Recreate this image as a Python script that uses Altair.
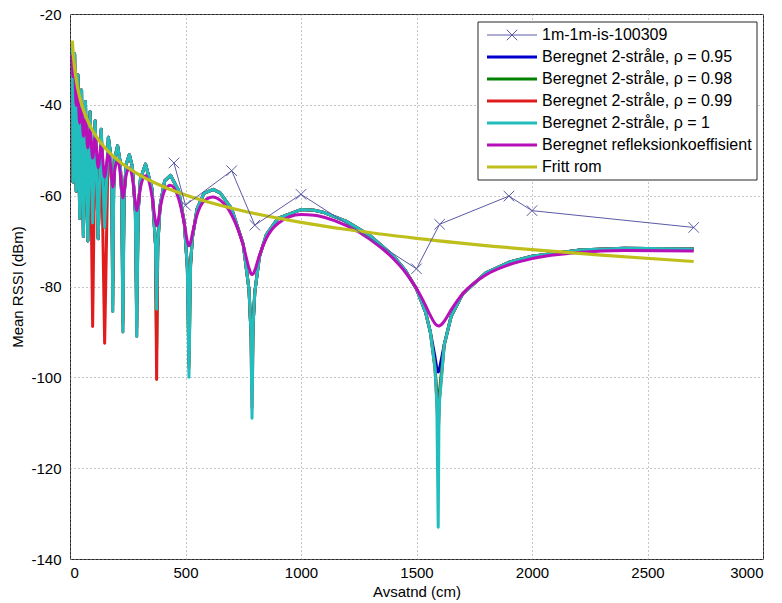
import altair as alt
import pandas as pd

# ---------------- data ----------------
# distance samples (cm) shared by the computed curves
dist_model = [10, 13, 20, 27, 34, 42, 50, 58, 67, 77, 87, 98, 109, 122, 135, 150,
              166, 175, 181, 185, 189, 195, 206, 217, 224, 229, 234, 243, 257, 270,
              283, 289, 295, 305, 327, 355, 370, 375, 380, 390, 410, 435, 470, 495,
              508, 515, 522, 530, 550, 580, 620, 650, 700, 750, 775, 783, 788, 793,
              800, 820, 850, 900, 1000, 1057, 1100, 1200, 1300, 1400, 1450, 1500,
              1540, 1560, 1580, 1588, 1594, 1597, 1600, 1620, 1650, 1700, 1800,
              1900, 2000, 2200, 2400, 2700]

# two-ray model, rho = 1 (cyan)
rssi_rho_1 = [-26.66, -57.0, -28.77, -59.0, -33.38, -65.0, -36.73, -69.0, -39.27, -70.0,
              -41.54, -66.0, -43.5, -69.5, -45.36, -67.0, -47.15, -50.62, -58.1, -85.5,
              -58.48, -51.46, -49.03, -52.53, -59.96, -90.0, -60.34, -53.14, -50.95, -53.63,
              -63.56, -91.0, -63.47, -56.28, -53.04, -58.48, -70.65, -85.0, -71.07, -62.19,
              -56.74, -55.52, -58.87, -66.03, -75.82, -100.0, -75.14, -69.16, -62.92, -59.51,
              -58.61, -59.39, -62.92, -70.73, -80.73, -89.7, -109.0, -88.13, -81.25, -73.44,
              -68.58, -65.02, -63.06, -63.23, -63.72, -65.73, -68.83, -73.26, -76.33, -80.54,
              -85.79, -90.06, -98.07, -105.87, -133.0, -110.5, -105.05, -92.86, -86.57, -81.61,
              -76.98, -74.66, -73.31, -71.99, -71.58, -71.75]

# values of the other two-ray curves where they differ from rho = 1 (at the nulls)
null_rho_095 = {185: -79.0, 229: -82.0, 289: -84.0, 375: -85.0, 515: -89.0, 788: -92.7,
                1580: -95.5, 1588: -98.1, 1594: -98.8, 1597: -98.6, 1600: -98.0}
null_rho_098 = {185: -84.0, 229: -88.0, 289: -89.0, 375: -94.0, 515: -97.0, 788: -100.7,
                1580: -97.6, 1588: -103.3, 1594: -106.8, 1597: -105.3, 1600: -102.9}
null_rho_099 = {98: -88.8, 150: -92.5, 375: -100.5, 515: -98.0, 788: -106.7,
                1580: -97.9, 1588: -105.1, 1594: -112.8, 1597: -108.5, 1600: -104.4}

# computed reflection coefficient curve (magenta)
rssi_reflection = [-28.90, -33.77, -32.72, -40.14, -37.31, -44.03, -40.62, -46.90, -43.11, -49.47,
                   -45.31, -51.72, -47.18, -53.83, -48.91, -55.90, -50.54, -53.10, -56.58, -58.11,
                   -57.01, -53.93, -52.21, -54.89, -58.70, -60.51, -59.14, -55.54, -53.86, -56.06,
                   -61.57, -63.28, -61.87, -58.22, -55.62, -60.11, -65.67, -66.63, -66.03, -62.90,
                   -58.81, -57.69, -60.66, -66.24, -70.07, -71.03, -70.26, -68.36, -64.21, -61.18,
                   -60.28, -60.99, -64.26, -70.94, -75.96, -77.11, -77.37, -77.22, -76.44, -73.16,
                   -69.42, -66.14, -64.17, -64.29, -64.75, -66.66, -69.64, -73.89, -76.75, -80.45,
                   -84.26, -86.39, -88.14, -88.54, -88.66, -88.68, -88.65, -87.66, -85.16, -81.60,
                   -77.45, -75.21, -73.86, -72.52, -72.07, -72.19]

# free space (yellow)
fs_dist = [10, 15, 20, 30, 40, 60, 80, 100, 150, 200, 300, 400, 500, 700, 1000, 1200,
           1500, 2000, 2300, 2700]
fs_rssi = [-25.87, -29.39, -31.89, -35.41, -37.91, -41.43, -43.93, -45.87, -49.39, -51.89,
           -55.41, -57.91, -59.85, -62.77, -65.87, -67.45, -69.39, -71.89, -73.11, -74.50]

# measurement 1m-1m-is-100309
meas_dist = [450, 500, 700, 800, 1000, 1500, 1600, 1900, 2000, 2700]
meas_rssi = [-52.8, -62.1, -54.5, -66.5, -59.7, -76.1, -66.3, -60.1, -63.3, -67.0]

legend_labels = ["1m-1m-is-100309",
                 "Beregnet 2-stråle, ρ = 0.95",
                 "Beregnet 2-stråle, ρ = 0.98",
                 "Beregnet 2-stråle, ρ = 0.99",
                 "Beregnet 2-stråle, ρ = 1",
                 "Beregnet refleksionkoeffisient",
                 "Fritt rom"]
x_ticks = [0, 500, 1000, 1500, 2000, 2500, 3000]
y_ticks = [-140, -120, -100, -80, -60, -40, -20]

# ---------------- styling ----------------
FONT = "Liberation Sans"
C_MEAS = "#5a5aa6"
C_BLUE = "#0000cc"
C_GREEN = "#008000"
C_RED = "#e01c1c"
C_CYAN = "#22bdbd"
C_MAG = "#b810b8"
C_YEL = "#bfbf1c"
legend_colors = [C_MEAS, C_BLUE, C_GREEN, C_RED, C_CYAN, C_MAG, C_YEL]
XMARK = "M-1,-1L1,1M-1,1L1,-1"
PLAIN_MINUS = "replace(datum.label, '\u2212', '-')"

x_enc = alt.X("dist:Q", scale=alt.Scale(domain=[0, 3000], nice=False, zero=False),
              axis=alt.Axis(values=x_ticks, title="Avsatnd (cm)", format="d",
                            labelPadding=6, titlePadding=4))
y_enc = alt.Y("rssi:Q", scale=alt.Scale(domain=[-140, -20], nice=False, zero=False),
              axis=alt.Axis(values=y_ticks, title="Mean RSSI (dBm)", format="d",
                            labelExpr=PLAIN_MINUS, labelPadding=9, titlePadding=5))


def frame(xs, ys):
    return pd.DataFrame({"dist": xs, "rssi": ys})


def with_nulls(overrides):
    return [overrides.get(d, v) for d, v in zip(dist_model, rssi_rho_1)]


def model_line(df, color, width=3.0, interp="linear"):
    return alt.Chart(df).mark_line(color=color, strokeWidth=width, strokeJoin="round",
                                   strokeCap="butt", interpolate=interp, clip=True).encode(
        x=x_enc, y=y_enc)


layers = [
    model_line(frame(dist_model, with_nulls(null_rho_095)), C_BLUE),
    model_line(frame(dist_model, with_nulls(null_rho_098)), C_GREEN),
    model_line(frame(dist_model, with_nulls(null_rho_099)), C_RED),
    model_line(frame(dist_model, rssi_rho_1), C_CYAN),
    model_line(frame(dist_model, rssi_reflection), C_MAG, interp="monotone"),
    model_line(frame(fs_dist, fs_rssi), C_YEL, width=3.2, interp="monotone"),
    alt.Chart(frame(meas_dist, meas_rssi)).mark_line(color=C_MEAS, strokeWidth=1).encode(
        x=x_enc, y=y_enc),
    alt.Chart(frame(meas_dist, meas_rssi)).mark_point(
        shape=XMARK, size=110, filled=False, color=C_MEAS, strokeWidth=1, opacity=1).encode(
        x=x_enc, y=y_enc),
]

# ---------------- legend box (top right, inside the axes) ----------------
one = pd.DataFrame({"k": [0]})
LX0, LX1, LY0, LY1 = 408, 687, 8, 166
layers.append(alt.Chart(one).mark_rect(fill="white", stroke="#262626", strokeWidth=1).encode(
    x=alt.value(LX0), x2=alt.value(LX1), y=alt.value(LY0), y2=alt.value(LY1)))
for i, (lab, col) in enumerate(zip(legend_labels, legend_colors)):
    ry = 21 + 22 * i
    layers.append(alt.Chart(one).mark_rule(color=col, strokeWidth=1 if i == 0 else 3).encode(
        x=alt.value(417), x2=alt.value(467), y=alt.value(ry)))
    layers.append(alt.Chart(one).mark_text(align="left", baseline="middle", font=FONT,
                                           fontSize=16, color="#000").encode(
        x=alt.value(472), y=alt.value(ry), text=alt.value(lab)))
layers.append(alt.Chart(one).mark_point(shape=XMARK, size=110, filled=False, color=C_MEAS,
                                        strokeWidth=1, opacity=1).encode(
    x=alt.value(442), y=alt.value(21)))

chart = alt.layer(*layers).properties(
    width=693, height=545,
    autosize=alt.AutoSizeParams(type="none"),
    padding={"left": 70, "top": 14, "right": 19, "bottom": 44},
    background="white",
).configure_view(
    stroke="#262626", strokeWidth=1
).configure_axis(
    labelFont=FONT, labelFontSize=15, labelColor="#000",
    titleFont=FONT, titleFontSize=15, titleFontWeight="normal", titleColor="#000",
    grid=True, gridColor="#8c8c8c", gridDash=[1, 3], gridWidth=1, gridOpacity=1,
    domain=False, ticks=False,
)

chart.save("out.html", embed_options={"renderer": "svg", "actions": False})
